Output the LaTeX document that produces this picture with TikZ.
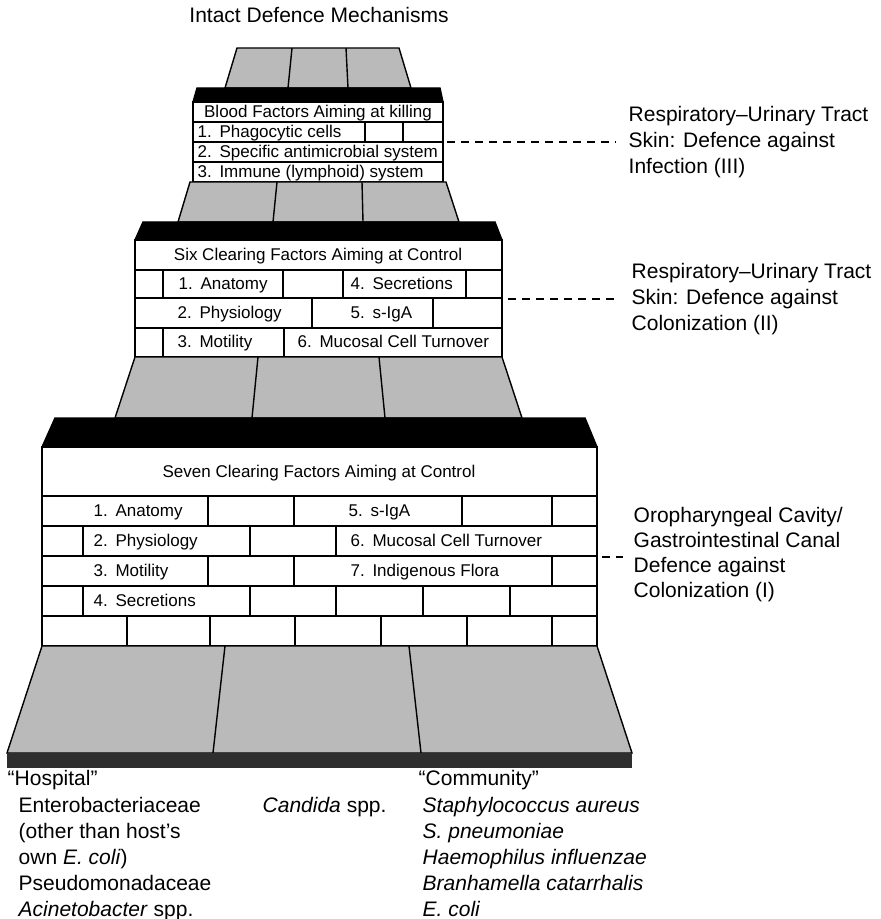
\documentclass[tikz,border=0pt]{standalone}
\usepackage{fontspec}
\setmainfont{Liberation Sans}
\usetikzlibrary{positioning}
\newcommand{\gap}{\hspace{0.45em}}
\begin{document}
\begin{tikzpicture}[x=0.5pt,y=-0.5pt,line width=0.7pt,
stone/.style={draw,fill=black!27},
capbar/.style={draw,fill=black},
cell/.style={font=\fontsize{8.5}{10}\selectfont,inner sep=0pt,anchor=west,text height=0.72em,text depth=0.2em},
headtxt/.style={font=\fontsize{8.5}{10}\selectfont,inner sep=0pt,text height=0.72em,text depth=0.2em},
side/.style={font=\fontsize{10.5}{12.8}\selectfont,align=left,anchor=west,inner sep=0pt},
germs/.style={font=\fontsize{10.5}{13}\selectfont,align=left,anchor=north west,inner sep=0pt},
link/.style={dash pattern=on 4pt off 3pt}]
\useasboundingbox (0,0) rectangle (881,919);

\node[font=\fontsize{10.5}{12}\selectfont] (title) at (319,15) {Intact Defence Mechanisms};

% top tier
\draw[stone] (237,48) -- (399,48) -- (411,88) -- (225,88) -- cycle;
\draw (292,48) -- (288,88) (346,48) -- (348,88);
\draw[capbar] (197,88) -- (440,88) -- (443,102) -- (193,102) -- cycle;
\draw (193,102) rectangle (443,182);
\foreach \y in {122,142,162} \draw (193,\y) -- (443,\y);
\foreach \x in {365,403} \draw (\x,122) -- (\x,142);
\node[headtxt] (blood) at (318,112) {Blood Factors Aiming at killing};
\node[cell] (b1) at (197,132) {1.\gap Phagocytic cells};
\node[cell] (b2) at (197,152) {2.\gap Specific antimicrobial system};
\node[cell] (b3) at (197,172) {3.\gap Immune (lymphoid) system};

% middle tier
\draw[stone] (190,182) -- (446,182) -- (459,222) -- (178,222) -- cycle;
\draw (277,182) -- (273,222) (362,182) -- (363,222);
\draw[capbar] (143,222) -- (495,222) -- (502,240) -- (135,240) -- cycle;
\draw (135,240) rectangle (502,357);
\foreach \y in {270,298,328} \draw (135,\y) -- (502,\y);
\foreach \x in {163,283,343,466} \draw (\x,270) -- (\x,298);
\foreach \x in {312,433} \draw (\x,298) -- (\x,328);
\foreach \x in {163,284} \draw (\x,328) -- (\x,357);
\node[headtxt] (six) at (318,255) {Six Clearing Factors Aiming at Control};
\node[cell] (m1) at (178,284) {1.\gap Anatomy};
\node[cell] (m4) at (350,284) {4.\gap Secretions};
\node[cell] (m2) at (177,313) {2.\gap Physiology};
\node[cell] (m5) at (350,313) {5.\gap s-IgA};
\node[cell] (m3) at (177,342) {3.\gap Motility};
\node[cell] (m6) at (297,342) {6.\gap Mucosal Cell Turnover};

% bottom tier
\draw[stone] (135,357) -- (502,357) -- (522,418) -- (115,418) -- cycle;
\draw (258,357) -- (252,418) (379,357) -- (385,418);
\draw[capbar] (55,418) -- (585,418) -- (597,447) -- (42,447) -- cycle;
\draw (42,447) rectangle (597,646);
\foreach \y in {496,526,556,586,616} \draw (42,\y) -- (597,\y);
\foreach \x in {208,294,462,552} \draw (\x,496) -- (\x,526);
\foreach \x in {83,250,336} \draw (\x,526) -- (\x,556);
\foreach \x in {208,294,552} \draw (\x,556) -- (\x,586);
\foreach \x in {83,250,336,423,510} \draw (\x,586) -- (\x,616);
\foreach \x in {127,210,295,381,467,552} \draw (\x,616) -- (\x,646);
\node[headtxt] (seven) at (319,472) {Seven Clearing Factors Aiming at Control};
\node[cell] (s1) at (93,511) {1.\gap Anatomy};
\node[cell] (s5) at (348,511) {5.\gap s-IgA};
\node[cell] (s2) at (93,541) {2.\gap Physiology};
\node[cell] (s6) at (350,541) {6.\gap Mucosal Cell Turnover};
\node[cell] (s3) at (93,571) {3.\gap Motility};
\node[cell] (s7) at (350,571) {7.\gap Indigenous Flora};
\node[cell] (s4) at (93,601) {4.\gap Secretions};

% base
\draw[stone] (42,646) -- (597,646) -- (632,753) -- (7,753) -- cycle;
\draw (225,646) -- (213,753) (409,646) -- (421,753);
\fill[black!82] (7,753) rectangle (632,768);

% sites
\node[side] (infect) at (628,142) {Respiratory--Urinary Tract\\Skin: Defence against\\Infection (III)};
\node[side] (colon2) at (631,299) {Respiratory--Urinary Tract\\Skin: Defence against\\Colonization (II)};
\node[side,font=\fontsize{10.5}{12.5}\selectfont] (colon1) at (633,555) {Oropharyngeal Cavity/\\Gastrointestinal Canal\\Defence against\\Colonization (I)};
\coordinate (e1) at (447,142);
\coordinate (e2) at (508,299);
\coordinate (e3) at (602,557);
\draw[link] (e1) -- ([xshift=-6pt]infect.west |- e1);
\draw[link] (e2) -- ([xshift=-8pt]colon2.west |- e2);
\draw[link] (e3) -- ([xshift=-5pt]colon1.west |- e3);

% organisms
\node[font=\fontsize{10.5}{12}\selectfont,anchor=west,inner sep=0pt] (hosp) at (7,780) {``Hospital''};
\node[germs] (hlist) at (18,797) {Enterobacteriaceae\\(other than host's\\own \textit{E. coli})\\Pseudomonadaceae\\\textit{Acinetobacter} spp.};
\node[germs] (cand) at (262,797) {\textit{Candida} spp.};
\node[font=\fontsize{10.5}{12}\selectfont,anchor=west,inner sep=0pt] (comm) at (418,780) {``Community''};
\node[germs] (clist) at (422,797) {\textit{Staphylococcus aureus}\\\textit{S. pneumoniae}\\\textit{Haemophilus influenzae}\\\textit{Branhamella catarrhalis}\\\textit{E. coli}};
\end{tikzpicture}
\end{document}
